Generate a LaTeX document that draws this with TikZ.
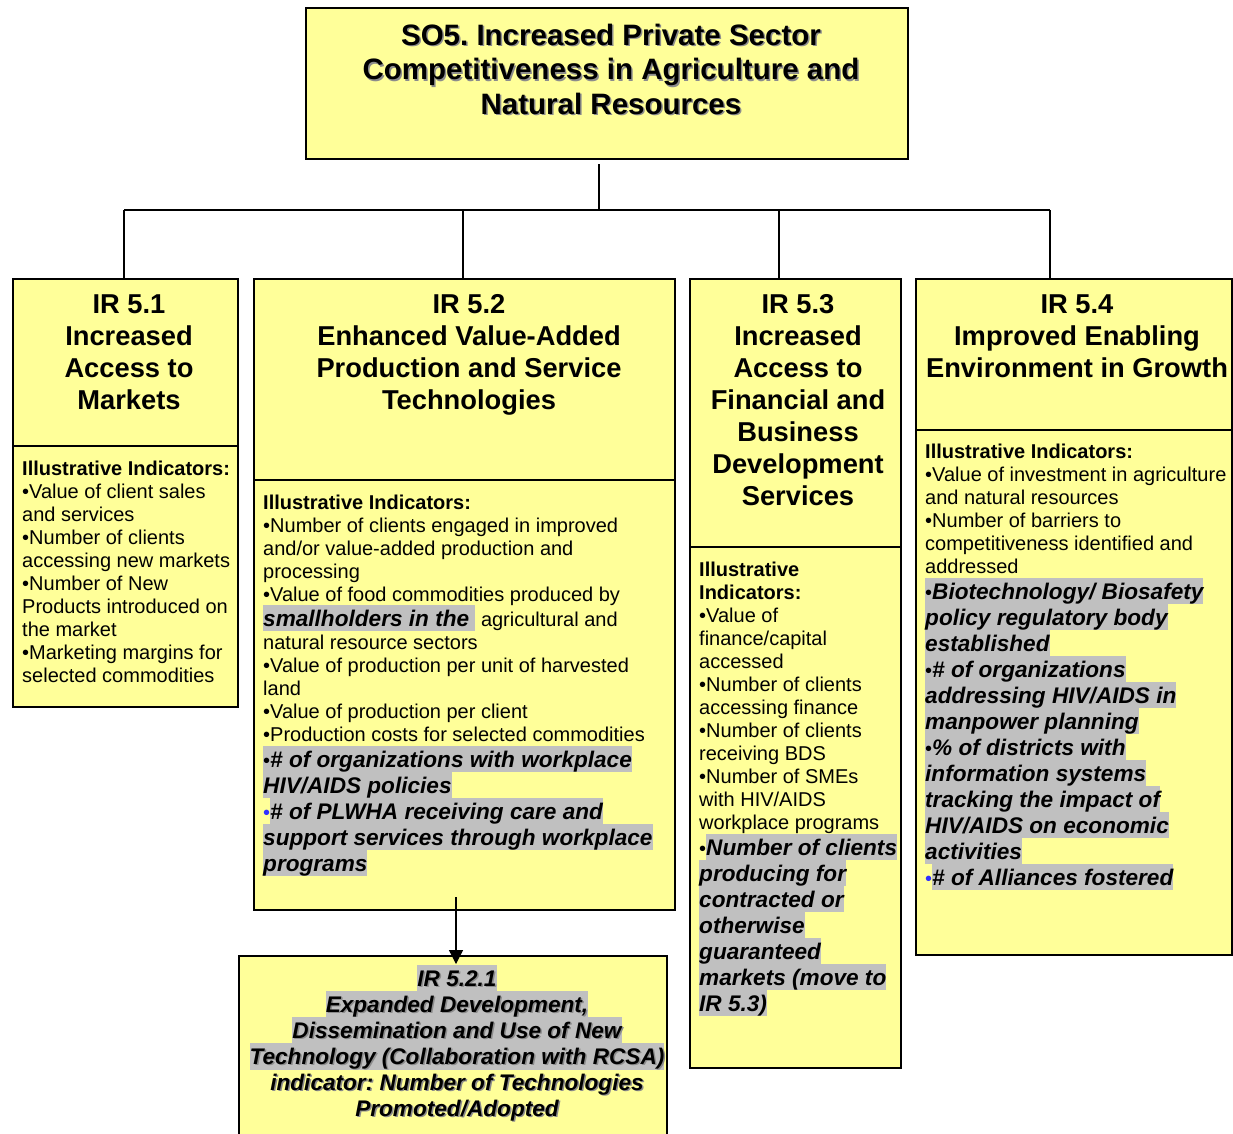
\documentclass[tikz,border=0pt]{standalone}
\usepackage{fontspec}
\setmainfont{Liberation Sans}
\usetikzlibrary{arrows.meta}
\frenchspacing
\definecolor{boxyellow}{HTML}{FFFF99}
\definecolor{hlgray}{HTML}{C0C0C0}
\definecolor{shadowgray}{HTML}{8C8C8C}
\definecolor{bulletblue}{HTML}{3030FF}
\newcommand\hlbox[1]{{\setlength{\fboxsep}{0pt}\colorbox{hlgray}{\rule[-5pt]{0pt}{26pt}#1}}}
\newcommand\shtext[1]{\makebox[0pt][l]{\hspace{1.5pt}\raisebox{-1.5pt}{\textcolor{shadowgray}{#1}}}#1}
\newcommand\nbul{{\normalfont\fontsize{20}{23}\selectfont •}}
\newcommand\bodyfont{\fontsize{20}{23}\selectfont}
\newcommand\hlfont{\fontsize{22.6}{26}\selectfont\bfseries\itshape}
\newcommand\headfont{\fontsize{27.3}{32}\selectfont\bfseries}
\newcommand\blk[1]{\begin{minipage}[t]{600pt}\raggedright\frenchspacing\lineskiplimit=-100pt\parindent=0pt\bodyfont #1\end{minipage}}
\newcommand\ctr[1]{\begin{minipage}[t]{600pt}\centering\frenchspacing\lineskiplimit=-100pt\parindent=0pt #1\end{minipage}}
\begin{document}
\begin{tikzpicture}[x=1pt,y=-1pt,
  box/.style={draw=black, line width=1.5pt, fill=boxyellow, inner sep=0pt, anchor=north west},
  divider/.style={draw=black, line width=1.5pt},
  conn/.style={draw=black, line width=1.3pt},
  txt/.style={inner sep=0pt, anchor=base west},
  ctxt/.style={inner sep=0pt, anchor=base}]
\fill[white] (0,0) rectangle (1233,1133);
\clip (0,0) rectangle (1233,1133);

% boxes
\node[box, minimum width=602pt, minimum height=151pt] (so5) at (305,7) {};
\node[box, minimum width=225pt, minimum height=428pt] (ir51) at (12,278) {};
\node[box, minimum width=421pt, minimum height=631pt] (ir52) at (253,278) {};
\node[box, minimum width=211pt, minimum height=789pt] (ir53) at (689,278) {};
\node[box, minimum width=316pt, minimum height=676pt] (ir54) at (915,278) {};
\node[box, minimum width=428pt, minimum height=220pt] (ir521) at (238,955) {};

% dividers
\draw[divider] (12,446) -- (237,446);
\draw[divider] (253,480) -- (674,480);
\draw[divider] (689,547) -- (900,547);
\draw[divider] (915,430) -- (1231,430);

% connectors
\coordinate (trunk) at (599,164);
\coordinate (busL) at (124,210);
\coordinate (busR) at (1050,210);
\coordinate (bus52) at (463,210);
\coordinate (bus53) at (779,210);
\draw[conn] (trunk) -- (trunk |- busL);
\draw[conn] (busL) -- (busR);
\draw[conn] (busL) -- (busL |- ir51.north);
\draw[conn] (bus52) -- (bus52 |- ir52.north);
\draw[conn] (bus53) -- (bus53 |- ir53.north);
\draw[conn] (busR) -- (busR |- ir54.north);
\coordinate (arrS) at (456,897);
\coordinate (arrE) at (456,964);
\draw[conn, -{Triangle[length=14pt,width=14pt]}] (arrS) -- (arrE);

% title
\node[ctxt] (so5t) at (611,45) {\ctr{\fontsize{29.5}{34.5}\selectfont\bfseries
\shtext{SO5. Increased Private Sector}\\
\shtext{Competitiveness in Agriculture and}\\
\shtext{Natural Resources}}};

% headings
\node[ctxt] (h51) at (129,313) {\ctr{\headfont IR 5.1\\Increased\\Access to\\Markets}};
\node[ctxt] (h52) at (469,313) {\ctr{\headfont IR 5.2\\Enhanced Value-Added\\Production and Service\\Technologies}};
\node[ctxt] (h53) at (798,313) {\ctr{\headfont IR 5.3\\Increased\\Access to\\Financial and\\Business\\Development\\Services}};
\node[ctxt] (h54) at (1077,313) {\ctr{\headfont IR 5.4\\Improved Enabling\\Environment in Growth}};

% IR 5.1 indicators
\node[txt] (t51) at (22,475) {\blk{\textbf{Illustrative Indicators:}\\
•Value of client sales\\
and services\\
•Number of clients\\
accessing new markets\\
•Number of New\\
Products introduced on\\
the market\\
•Marketing margins for\\
selected commodities}};

% IR 5.2 indicators
\node[txt] (t52) at (263,509) {\blk{\textbf{Illustrative Indicators:}\\
•Number of clients engaged in improved\\
and/or value-added production and\\
processing\\
•Value of food commodities produced by\\[2pt]
\hlbox{\hlfont smallholders in the } agricultural and\\
natural resource sectors\\
•Value of production per unit of harvested\\
land\\
•Value of production per client\\
•Production costs for selected commodities\par
{\hlfont
\hlbox{\nbul\# of organizations with workplace}\\
\hlbox{HIV/AIDS policies}\par
\textcolor{bulletblue}{\nbul}\hlbox{\# of PLWHA receiving care and}\\
\hlbox{support services through workplace}\\
\hlbox{programs}\par}}};

% IR 5.3 indicators
\node[txt] (t53) at (699,576) {\blk{\textbf{Illustrative}\\
\textbf{Indicators:}\\
•Value of\\
finance/capital\\
accessed\\
•Number of clients\\
accessing finance\\
•Number of clients\\
receiving BDS\\
•Number of SMEs\\
with HIV/AIDS\\
workplace programs\par
{\hlfont
\nbul\hlbox{Number of clients}\\
\hlbox{producing for}\\
\hlbox{contracted or}\\
\hlbox{otherwise}\\
\hlbox{guaranteed}\\
\hlbox{markets (move to}\\
\hlbox{IR 5.3)}\par}}};

% IR 5.4 indicators
\node[txt] (t54) at (925,458) {\blk{\textbf{Illustrative Indicators:}\\
•Value of investment in agriculture\\
and natural resources\\
•Number of barriers to\\
competitiveness identified and\\
addressed\par
{\hlfont
\hlbox{\nbul Biotechnology/ Biosafety}\\
\hlbox{policy regulatory body}\\
\hlbox{established}\par
\hlbox{\nbul\# of organizations}\\
\hlbox{addressing HIV/AIDS in}\\
\hlbox{manpower planning}\par
\hlbox{\nbul\% of districts with}\\
\hlbox{information systems}\\
\hlbox{tracking the impact of}\\
\hlbox{HIV/AIDS on economic}\\
\hlbox{activities}\par
\textcolor{bulletblue}{\nbul}\hlbox{\# of Alliances fostered}\par}}};

% IR 5.2.1
\node[ctxt] (t521) at (457,986) {\ctr{\hlfont
\hlbox{\shtext{IR 5.2.1}}\\
\hlbox{\shtext{Expanded Development,}}\\
\hlbox{\shtext{Dissemination and Use of New}}\\
\hlbox{\shtext{Technology (Collaboration with RCSA)}}\\
\shtext{indicator: Number of Technologies}\\
\shtext{Promoted/Adopted}}};
\end{tikzpicture}
\end{document}
